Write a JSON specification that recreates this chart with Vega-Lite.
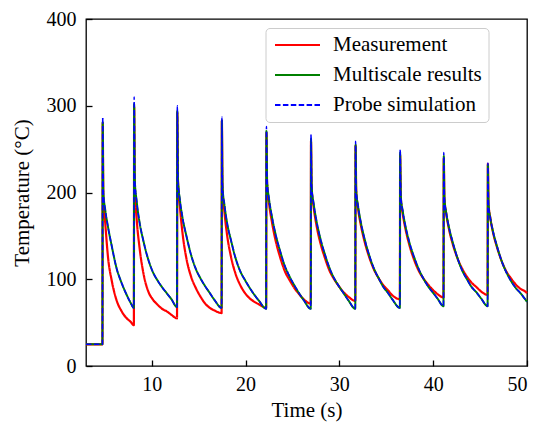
{
  "$schema": "https://vega.github.io/schema/vega-lite/v6.json",
  "width": 441,
  "height": 347,
  "autosize": {"type": "none"},
  "padding": {"left": 86, "top": 19, "right": 11, "bottom": 61},
  "background": "white",
  "config": {
    "view": {"stroke": "black", "strokeWidth": 1.3},
    "axis": {
      "domain": false,
      "grid": false,
      "labelFont": "Liberation Serif",
      "labelFontSize": 20,
      "labelColor": "black",
      "titleFont": "Liberation Serif",
      "titleFontSize": 21,
      "titleFontWeight": "normal",
      "titleColor": "black",
      "tickColor": "black",
      "tickWidth": 1.3,
      "tickSize": -6
    },
    "legend": {
      "orient": "none",
      "legendX": 179.5,
      "legendY": 9,
      "symbolType": "M-1,0H5",
      "symbolSize": 225,
      "symbolStrokeWidth": 2,
      "labelFont": "Liberation Serif",
      "labelFontSize": 21,
      "labelColor": "black",
      "labelLimit": 400,
      "labelOffset": 40,
      "padding": 6.5,
      "rowPadding": 8,
      "fillColor": "rgba(255,255,255,0.8)",
      "strokeColor": "#cccccc",
      "cornerRadius": 4
    }
  },
  "data": {
    "values": [
      {"t": 3, "Measurement": 25, "Multiscale results": 25, "Probe simulation": 25},
      {"t": 4.75, "Measurement": 25, "Multiscale results": 25, "Probe simulation": 25},
      {"t": 4.78, "Measurement": 280, "Multiscale results": 281, "Probe simulation": 287},
      {"t": 4.85, "Measurement": 195, "Multiscale results": 200, "Probe simulation": 200},
      {"t": 5.05, "Measurement": 165, "Multiscale results": 180, "Probe simulation": 180},
      {"t": 5.35, "Measurement": 125, "Multiscale results": 160, "Probe simulation": 160},
      {"t": 5.75, "Measurement": 98, "Multiscale results": 138, "Probe simulation": 138},
      {"t": 6.25, "Measurement": 76, "Multiscale results": 113, "Probe simulation": 113},
      {"t": 6.75, "Measurement": 64, "Multiscale results": 97, "Probe simulation": 97},
      {"t": 7.25, "Measurement": 56, "Multiscale results": 84, "Probe simulation": 84},
      {"t": 7.75, "Measurement": 51, "Multiscale results": 73, "Probe simulation": 73},
      {"t": 8.1, "Measurement": 47, "Multiscale results": 67, "Probe simulation": 67},
      {"t": 8.13, "Measurement": 299, "Multiscale results": 302, "Probe simulation": 310},
      {"t": 8.2, "Measurement": 210, "Multiscale results": 215, "Probe simulation": 215},
      {"t": 8.4, "Measurement": 170, "Multiscale results": 190, "Probe simulation": 190},
      {"t": 8.7, "Measurement": 137, "Multiscale results": 166, "Probe simulation": 166},
      {"t": 9.1, "Measurement": 108, "Multiscale results": 145, "Probe simulation": 145},
      {"t": 9.6, "Measurement": 87, "Multiscale results": 124, "Probe simulation": 124},
      {"t": 10.1, "Measurement": 77, "Multiscale results": 109, "Probe simulation": 109},
      {"t": 10.6, "Measurement": 71, "Multiscale results": 99, "Probe simulation": 99},
      {"t": 11.1, "Measurement": 66, "Multiscale results": 91, "Probe simulation": 91},
      {"t": 11.6, "Measurement": 63, "Multiscale results": 84, "Probe simulation": 84},
      {"t": 12.1, "Measurement": 59, "Multiscale results": 77, "Probe simulation": 77},
      {"t": 12.7, "Measurement": 55, "Multiscale results": 68, "Probe simulation": 68},
      {"t": 12.73, "Measurement": 292, "Multiscale results": 294, "Probe simulation": 300},
      {"t": 12.8, "Measurement": 215, "Multiscale results": 215, "Probe simulation": 215},
      {"t": 13.0, "Measurement": 185, "Multiscale results": 192, "Probe simulation": 192},
      {"t": 13.3, "Measurement": 152, "Multiscale results": 170, "Probe simulation": 170},
      {"t": 13.7, "Measurement": 124, "Multiscale results": 150, "Probe simulation": 150},
      {"t": 14.2, "Measurement": 103, "Multiscale results": 128, "Probe simulation": 128},
      {"t": 14.7, "Measurement": 90, "Multiscale results": 112, "Probe simulation": 112},
      {"t": 15.2, "Measurement": 80, "Multiscale results": 101, "Probe simulation": 101},
      {"t": 15.7, "Measurement": 72, "Multiscale results": 92, "Probe simulation": 92},
      {"t": 16.2, "Measurement": 67, "Multiscale results": 84, "Probe simulation": 84},
      {"t": 16.7, "Measurement": 64, "Multiscale results": 76, "Probe simulation": 76},
      {"t": 17.45, "Measurement": 61, "Multiscale results": 67, "Probe simulation": 67},
      {"t": 17.48, "Measurement": 283, "Multiscale results": 283, "Probe simulation": 287},
      {"t": 17.55, "Measurement": 205, "Multiscale results": 207, "Probe simulation": 207},
      {"t": 17.75, "Measurement": 178, "Multiscale results": 186, "Probe simulation": 186},
      {"t": 18.05, "Measurement": 150, "Multiscale results": 164, "Probe simulation": 164},
      {"t": 18.45, "Measurement": 126, "Multiscale results": 145, "Probe simulation": 145},
      {"t": 18.95, "Measurement": 106, "Multiscale results": 124, "Probe simulation": 124},
      {"t": 19.45, "Measurement": 93, "Multiscale results": 109, "Probe simulation": 109},
      {"t": 19.95, "Measurement": 84, "Multiscale results": 99, "Probe simulation": 99},
      {"t": 20.45, "Measurement": 78, "Multiscale results": 90, "Probe simulation": 90},
      {"t": 20.95, "Measurement": 74, "Multiscale results": 82, "Probe simulation": 82},
      {"t": 21.45, "Measurement": 71, "Multiscale results": 75, "Probe simulation": 75},
      {"t": 22.2, "Measurement": 67, "Multiscale results": 66, "Probe simulation": 66},
      {"t": 22.23, "Measurement": 269, "Multiscale results": 271, "Probe simulation": 276},
      {"t": 22.3, "Measurement": 210, "Multiscale results": 214, "Probe simulation": 214},
      {"t": 22.5, "Measurement": 188, "Multiscale results": 193, "Probe simulation": 193},
      {"t": 22.8, "Measurement": 167, "Multiscale results": 173, "Probe simulation": 173},
      {"t": 23.2, "Measurement": 145, "Multiscale results": 152, "Probe simulation": 152},
      {"t": 23.7, "Measurement": 125, "Multiscale results": 132, "Probe simulation": 132},
      {"t": 24.2, "Measurement": 109, "Multiscale results": 115, "Probe simulation": 115},
      {"t": 24.7, "Measurement": 99, "Multiscale results": 103, "Probe simulation": 103},
      {"t": 25.2, "Measurement": 90, "Multiscale results": 93, "Probe simulation": 93},
      {"t": 25.7, "Measurement": 83, "Multiscale results": 84, "Probe simulation": 84},
      {"t": 26.2, "Measurement": 77, "Multiscale results": 76, "Probe simulation": 76},
      {"t": 26.95, "Measurement": 72, "Multiscale results": 66, "Probe simulation": 66},
      {"t": 26.98, "Measurement": 259, "Multiscale results": 262, "Probe simulation": 267},
      {"t": 27.05, "Measurement": 204, "Multiscale results": 207, "Probe simulation": 207},
      {"t": 27.25, "Measurement": 184, "Multiscale results": 188, "Probe simulation": 188},
      {"t": 27.55, "Measurement": 163, "Multiscale results": 168, "Probe simulation": 168},
      {"t": 27.95, "Measurement": 143, "Multiscale results": 148, "Probe simulation": 148},
      {"t": 28.45, "Measurement": 125, "Multiscale results": 129, "Probe simulation": 129},
      {"t": 28.95, "Measurement": 110, "Multiscale results": 113, "Probe simulation": 113},
      {"t": 29.45, "Measurement": 100, "Multiscale results": 101, "Probe simulation": 101},
      {"t": 29.95, "Measurement": 92, "Multiscale results": 92, "Probe simulation": 92},
      {"t": 30.45, "Measurement": 85, "Multiscale results": 84, "Probe simulation": 84},
      {"t": 30.95, "Measurement": 80, "Multiscale results": 76, "Probe simulation": 76},
      {"t": 31.7, "Measurement": 75, "Multiscale results": 66, "Probe simulation": 66},
      {"t": 31.73, "Measurement": 254, "Multiscale results": 255, "Probe simulation": 259},
      {"t": 31.8, "Measurement": 201, "Multiscale results": 202, "Probe simulation": 202},
      {"t": 32.0, "Measurement": 181, "Multiscale results": 184, "Probe simulation": 184},
      {"t": 32.3, "Measurement": 162, "Multiscale results": 165, "Probe simulation": 165},
      {"t": 32.7, "Measurement": 143, "Multiscale results": 146, "Probe simulation": 146},
      {"t": 33.2, "Measurement": 125, "Multiscale results": 127, "Probe simulation": 127},
      {"t": 33.7, "Measurement": 111, "Multiscale results": 112, "Probe simulation": 112},
      {"t": 34.2, "Measurement": 101, "Multiscale results": 101, "Probe simulation": 101},
      {"t": 34.7, "Measurement": 93, "Multiscale results": 91, "Probe simulation": 91},
      {"t": 35.2, "Measurement": 87, "Multiscale results": 84, "Probe simulation": 84},
      {"t": 35.7, "Measurement": 81, "Multiscale results": 76, "Probe simulation": 76},
      {"t": 36.45, "Measurement": 77, "Multiscale results": 67, "Probe simulation": 67},
      {"t": 36.48, "Measurement": 243, "Multiscale results": 246, "Probe simulation": 250},
      {"t": 36.55, "Measurement": 194, "Multiscale results": 196, "Probe simulation": 196},
      {"t": 36.75, "Measurement": 176, "Multiscale results": 179, "Probe simulation": 179},
      {"t": 37.05, "Measurement": 158, "Multiscale results": 161, "Probe simulation": 161},
      {"t": 37.45, "Measurement": 140, "Multiscale results": 143, "Probe simulation": 143},
      {"t": 37.95, "Measurement": 123, "Multiscale results": 126, "Probe simulation": 126},
      {"t": 38.45, "Measurement": 110, "Multiscale results": 112, "Probe simulation": 112},
      {"t": 38.95, "Measurement": 101, "Multiscale results": 101, "Probe simulation": 101},
      {"t": 39.45, "Measurement": 94, "Multiscale results": 92, "Probe simulation": 92},
      {"t": 39.95, "Measurement": 88, "Multiscale results": 85, "Probe simulation": 85},
      {"t": 40.45, "Measurement": 83, "Multiscale results": 78, "Probe simulation": 78},
      {"t": 41.1, "Measurement": 79, "Multiscale results": 69, "Probe simulation": 69},
      {"t": 41.13, "Measurement": 239, "Multiscale results": 242, "Probe simulation": 246},
      {"t": 41.2, "Measurement": 192, "Multiscale results": 194, "Probe simulation": 194},
      {"t": 41.4, "Measurement": 175, "Multiscale results": 176, "Probe simulation": 176},
      {"t": 41.7, "Measurement": 157, "Multiscale results": 159, "Probe simulation": 159},
      {"t": 42.1, "Measurement": 140, "Multiscale results": 142, "Probe simulation": 142},
      {"t": 42.6, "Measurement": 124, "Multiscale results": 124, "Probe simulation": 124},
      {"t": 43.1, "Measurement": 112, "Multiscale results": 110, "Probe simulation": 110},
      {"t": 43.6, "Measurement": 103, "Multiscale results": 100, "Probe simulation": 100},
      {"t": 44.1, "Measurement": 96, "Multiscale results": 91, "Probe simulation": 91},
      {"t": 44.6, "Measurement": 91, "Multiscale results": 85, "Probe simulation": 85},
      {"t": 45.1, "Measurement": 86, "Multiscale results": 78, "Probe simulation": 78},
      {"t": 45.8, "Measurement": 82, "Multiscale results": 69, "Probe simulation": 69},
      {"t": 45.83, "Measurement": 233, "Multiscale results": 232, "Probe simulation": 234},
      {"t": 45.9, "Measurement": 187, "Multiscale results": 186, "Probe simulation": 186},
      {"t": 46.1, "Measurement": 170, "Multiscale results": 170, "Probe simulation": 170},
      {"t": 46.4, "Measurement": 153, "Multiscale results": 154, "Probe simulation": 154},
      {"t": 46.8, "Measurement": 137, "Multiscale results": 138, "Probe simulation": 138},
      {"t": 47.3, "Measurement": 121, "Multiscale results": 121, "Probe simulation": 121},
      {"t": 47.8, "Measurement": 109, "Multiscale results": 108, "Probe simulation": 108},
      {"t": 48.3, "Measurement": 101, "Multiscale results": 98, "Probe simulation": 98},
      {"t": 48.8, "Measurement": 94, "Multiscale results": 90, "Probe simulation": 90},
      {"t": 49.3, "Measurement": 89, "Multiscale results": 84, "Probe simulation": 84},
      {"t": 49.8, "Measurement": 86, "Multiscale results": 77, "Probe simulation": 77},
      {"t": 50, "Measurement": 84, "Multiscale results": 74, "Probe simulation": 74}
    ]
  },
  "transform": [
    {"fold": ["Measurement", "Multiscale results", "Probe simulation"], "as": ["series", "temp"]}
  ],
  "encoding": {
    "x": {
      "field": "t", "type": "quantitative",
      "scale": {"domain": [3, 50], "nice": false, "zero": false},
      "axis": {"title": "Time (s)", "values": [10, 20, 30, 40, 50], "labelPadding": 14, "titlePadding": 5}
    },
    "y": {
      "field": "temp", "type": "quantitative",
      "scale": {"domain": [0, 400], "nice": false},
      "axis": {"title": "Temperature (°C)", "values": [0, 100, 200, 300, 400], "labelPadding": 16, "titlePadding": 14}
    },
    "color": {
      "field": "series", "type": "nominal",
      "scale": {"domain": ["Measurement", "Multiscale results", "Probe simulation"], "range": ["#ff0000", "#008000", "#0000ff"]},
      "legend": {"title": null}
    },
    "strokeDash": {
      "field": "series", "type": "nominal",
      "scale": {"domain": ["Measurement", "Multiscale results", "Probe simulation"], "range": [[1, 0], [1, 0], [5.5, 2.4]]},
      "legend": {"title": null}
    }
  },
  "layer": [
    {"transform": [{"filter": "datum.series === 'Measurement'"}], "mark": {"type": "line", "strokeWidth": 2.2, "interpolate": "monotone"}},
    {"transform": [{"filter": "datum.series === 'Multiscale results'"}], "mark": {"type": "line", "strokeWidth": 2, "interpolate": "monotone"}},
    {"transform": [{"filter": "datum.series === 'Probe simulation'"}], "mark": {"type": "line", "strokeWidth": 1.5, "interpolate": "monotone"}}
  ]
}
